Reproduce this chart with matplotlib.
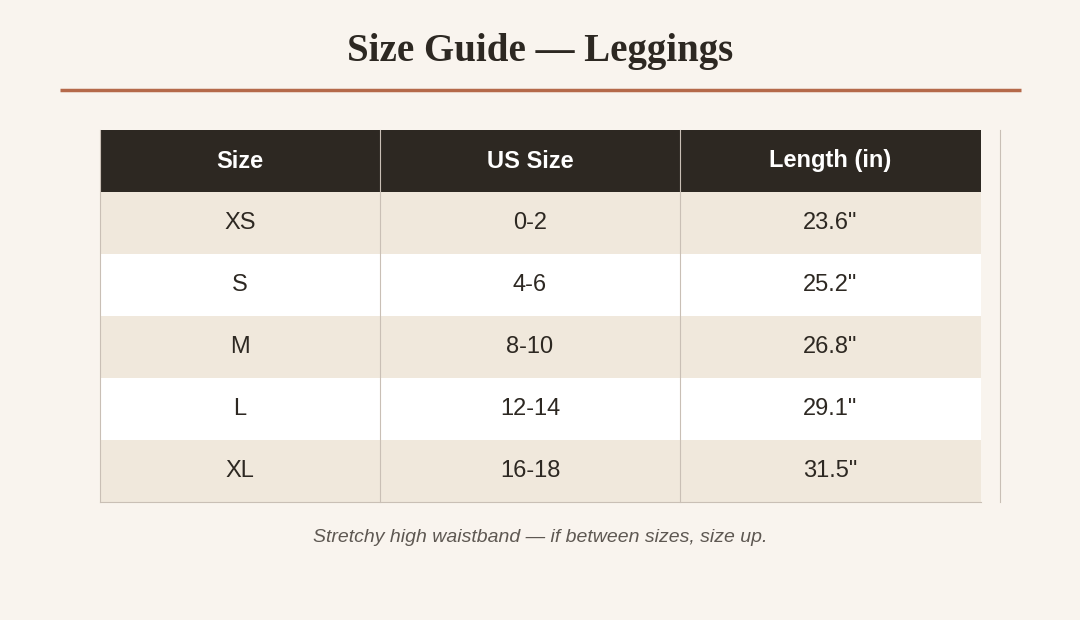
import matplotlib.pyplot as plt
from matplotlib.patches import Rectangle

columns = ["Size", "US Size", "Length (in)"]
sizes = ["XS", "S", "M", "L", "XL"]
us_sizes = ["0-2", "4-6", "8-10", "12-14", "16-18"]
lengths = ['23.6"', '25.2"', '26.8"', '29.1"', '31.5"']

title = "Size Guide \u2014 Leggings"
note = "Stretchy high waistband \u2014 if between sizes, size up."

bg = "#f9f4ee"
header_bg = "#2d2822"
stripe = "#f0e8dc"
border = "#c9bfb5"
ink = "#2d2822"

fig = plt.figure(figsize=(10.8, 6.2), dpi=100, facecolor=bg)
ax = fig.add_axes([0, 0, 1, 1])
ax.set_xlim(0, 1080)
ax.set_ylim(620, 0)
ax.axis("off")

ax.text(540, 51, title, ha="center", va="center", fontsize=28, fontweight="bold",
        family="Liberation Serif", color=ink)
ax.plot([60, 1021], [90, 90], color="#b5694a", lw=2.5, solid_capstyle="butt")

col_x = [100, 380, 680, 981]
top, row_h = 130, 62
rows = list(zip(sizes, us_sizes, lengths))

ax.add_patch(Rectangle((col_x[0], top), col_x[-1] - col_x[0], row_h, color=header_bg, lw=0))
for j, name in enumerate(columns):
    cx = (col_x[j] + col_x[j + 1]) / 2
    ax.text(cx, top + row_h / 2, name, ha="center", va="center", fontsize=17,
            fontweight="bold", color="white", family="Liberation Sans")

for i, row in enumerate(rows):
    y = top + row_h * (i + 1)
    ax.add_patch(Rectangle((col_x[0], y), col_x[-1] - col_x[0], row_h,
                           color=stripe if i % 2 == 0 else "white", lw=0))
    for j, val in enumerate(row):
        cx = (col_x[j] + col_x[j + 1]) / 2
        ax.text(cx, y + row_h / 2, val, ha="center", va="center", fontsize=17,
                color=ink, family="Liberation Sans")

bottom = top + row_h * (len(rows) + 1)
for x in col_x[:-1]:
    ax.plot([x, x], [top, bottom], color=border, lw=0.8)
ax.plot([1000, 1000], [top, bottom], color=border, lw=0.8)
ax.plot([col_x[0], col_x[-1]], [bottom, bottom], color=border, lw=0.8)

ax.text(540, 538, note, ha="center", va="center", fontsize=14, style="italic",
        color="#5e5852", family="Liberation Sans")

fig.savefig("out.png", dpi=100, facecolor=bg)
